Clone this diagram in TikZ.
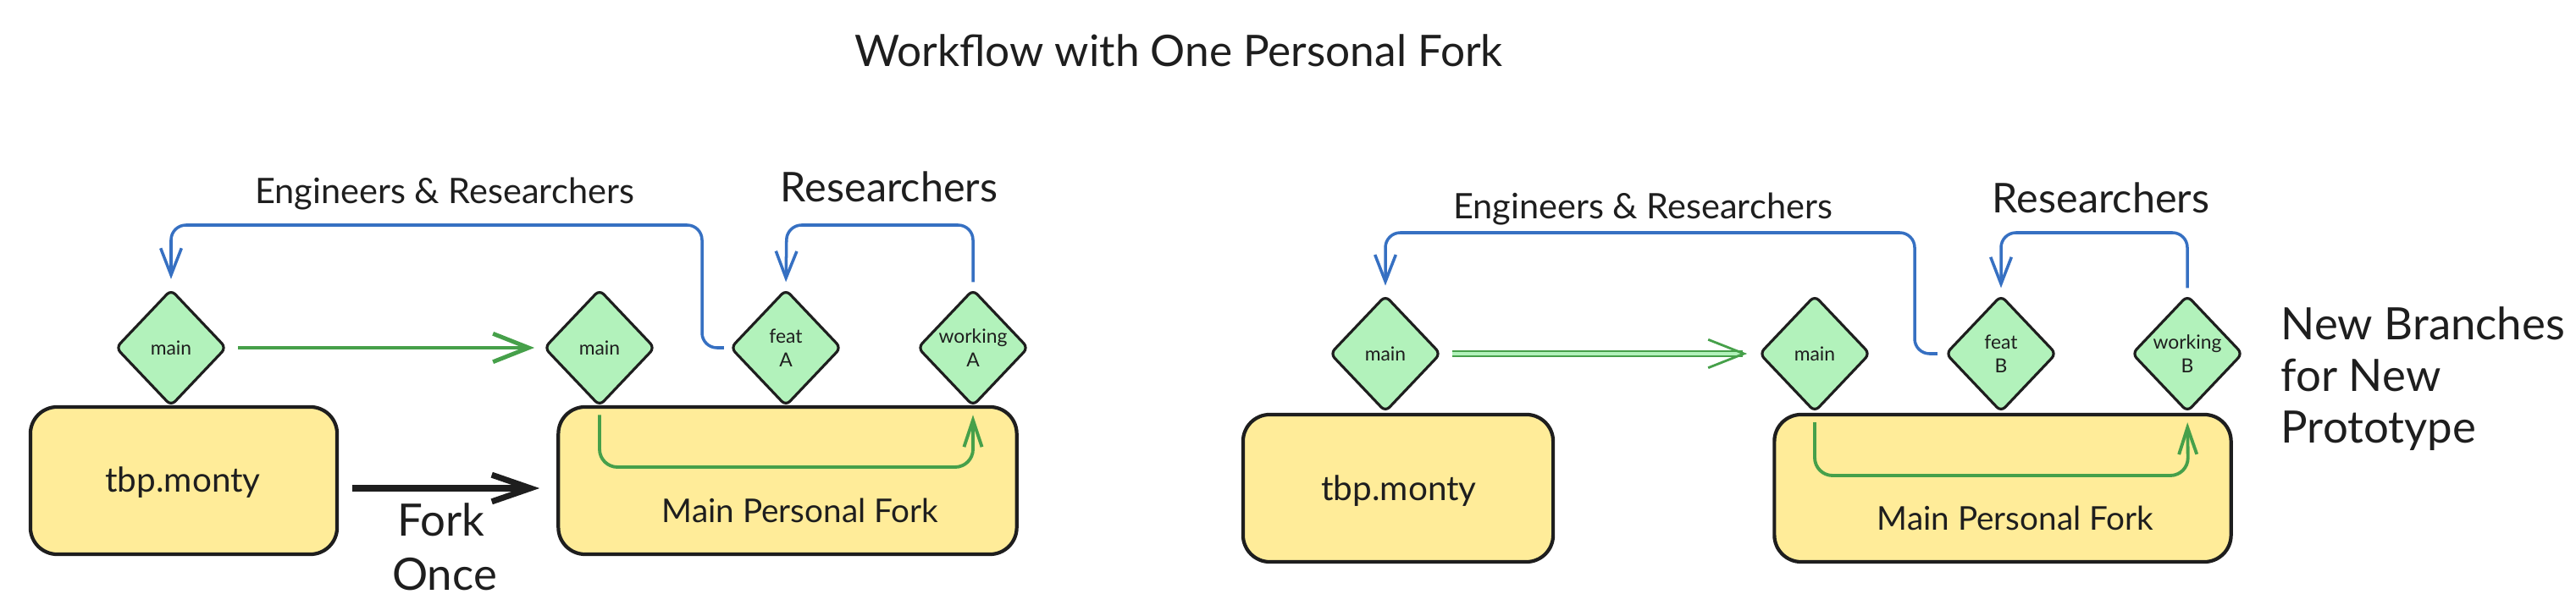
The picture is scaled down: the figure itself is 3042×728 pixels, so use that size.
\documentclass[tikz,border=0pt]{standalone}
\usepackage{fontspec}
\setmainfont{Lato}
\usetikzlibrary{shapes.geometric,arrows.meta,calc}
\definecolor{ink}{HTML}{1E1E1E}
\definecolor{gfill}{HTML}{B2F2BB}
\definecolor{yfill}{HTML}{FFEC99}
\definecolor{bline}{HTML}{3670C2}
\definecolor{gline}{HTML}{46A04A}
\begin{document}
\begin{tikzpicture}[x=0.01cm,y=-0.01cm,
  branch/.style={diamond, draw=ink, fill=gfill, line width=0.9pt,
    minimum width=1.31cm, minimum height=1.38cm, inner sep=0pt,
    font=\fontsize{6.5}{8}\selectfont, align=center, text=ink, rounded corners=2pt},
  repo/.style={draw=ink, fill=yfill, line width=1.2pt, rounded corners=9pt,
    inner sep=0pt, minimum height=1.74cm},
  lbl/.style={text=ink, inner sep=0pt},
  garrow/.style={draw=gline, line width=1.4pt, -{Straight Barb[length=12pt,width=9.5pt]}},
  ginner/.style={draw=gline, line width=1.1pt, rounded corners=6pt, -{Straight Barb[length=9pt,width=6pt]}},
  barrow/.style={draw=bline, line width=1pt, rounded corners=5pt, -{Straight Barb[length=9pt,width=7pt]}},
  karrow/.style={draw=ink, line width=2pt, -{Straight Barb[length=13pt,width=9pt]}},
]
\useasboundingbox (0,0) rectangle (3042,728);

% title
\node[lbl, font=\fontsize{14.6}{17}\selectfont] (title) at (1392,60) {Workflow with One Personal Fork};

% ---------- left panel ----------
\node[repo, minimum width=3.62cm] (tbpL) at (217,568) {};
\node[repo, minimum width=5.41cm] (forkL) at (930,568) {};
\node[branch] (mL1) at (202,411) {main};
\node[branch] (mL2) at (708,411) {main};
\node[branch] (featA) at (928,411) {feat\\A};
\node[branch] (workA) at (1149,411) {working\\A};
\node[lbl, font=\fontsize{11.5}{13}\selectfont] (tbpLt) at (216,570) {tbp.monty};
\node[lbl, font=\fontsize{11}{13}\selectfont] (forkLt) at (945,603) {Main Personal Fork};
\node[lbl, font=\fontsize{11.8}{14}\selectfont] (engL) at (525,229) {Engineers \& Researchers};
\node[lbl, font=\fontsize{13.8}{16}\selectfont] (resL) at (1050,221) {Researchers};
\node[lbl, font=\fontsize{15}{18}\selectfont] (forkw) at (521,614) {Fork};
\node[lbl, font=\fontsize{15}{18}\selectfont] (oncew) at (525,679) {Once};

\draw[garrow, shorten <=3.4pt, shorten >=2.8pt] (mL1) -- (mL2);
\draw[karrow, shorten <=4.5pt, shorten >=5.7pt] ([yshift=-0.09cm]tbpL.east) -- ([yshift=-0.09cm]forkL.west);
\draw[barrow, shorten <=1.7pt, shorten >=3pt] (featA.west) -| (829,266) -| (mL1.north);
\draw[barrow, shorten <=2pt, shorten >=2pt] (workA.north) |- (929,266) -- (featA.north);
\draw[ginner, shorten <=2.5pt, shorten >=2.5pt] (mL2.south) |- (1149,552) -- (workA.south);

% ---------- right panel ----------
\node[repo, minimum width=3.66cm] (tbpR) at (1651,577) {};
\node[repo, minimum width=5.39cm] (forkR) at (2365,577) {};
\node[branch] (mR1) at (1636,418) {main};
\node[branch] (mR2) at (2143,418) {main};
\node[branch] (featB) at (2363,418) {feat\\B};
\node[branch] (workB) at (2583,418) {working\\B};
\node[lbl, font=\fontsize{11.5}{13}\selectfont] (tbpRt) at (1652,580) {tbp.monty};
\node[lbl, font=\fontsize{11}{13}\selectfont] (forkRt) at (2380,612) {Main Personal Fork};
\node[lbl, font=\fontsize{11.8}{14}\selectfont] (engR) at (1940,247) {Engineers \& Researchers};
\node[lbl, font=\fontsize{13.8}{16}\selectfont] (resR) at (2481,234) {Researchers};
\node[lbl, font=\fontsize{15}{17.4}\selectfont, align=left, anchor=north west] (newb) at (2693,362) {New Branches\\for New\\Prototype};

\draw[garrow, double=gfill, double distance=0.9pt, line width=0.8pt, shorten <=3.4pt, shorten >=3.6pt] (mR1) -- (mR2);
\draw[barrow, shorten <=2.3pt, shorten >=2.8pt] (featB.west) -| (2261,275) -| (mR1.north);
\draw[barrow, shorten <=2pt, shorten >=2pt] (workB.north) |- (2363,275) -- (featB.north);
\draw[ginner, shorten <=3pt, shorten >=3pt] (mR2.south) |- (2584,562) -- (workB.south);
\end{tikzpicture}
\end{document}
